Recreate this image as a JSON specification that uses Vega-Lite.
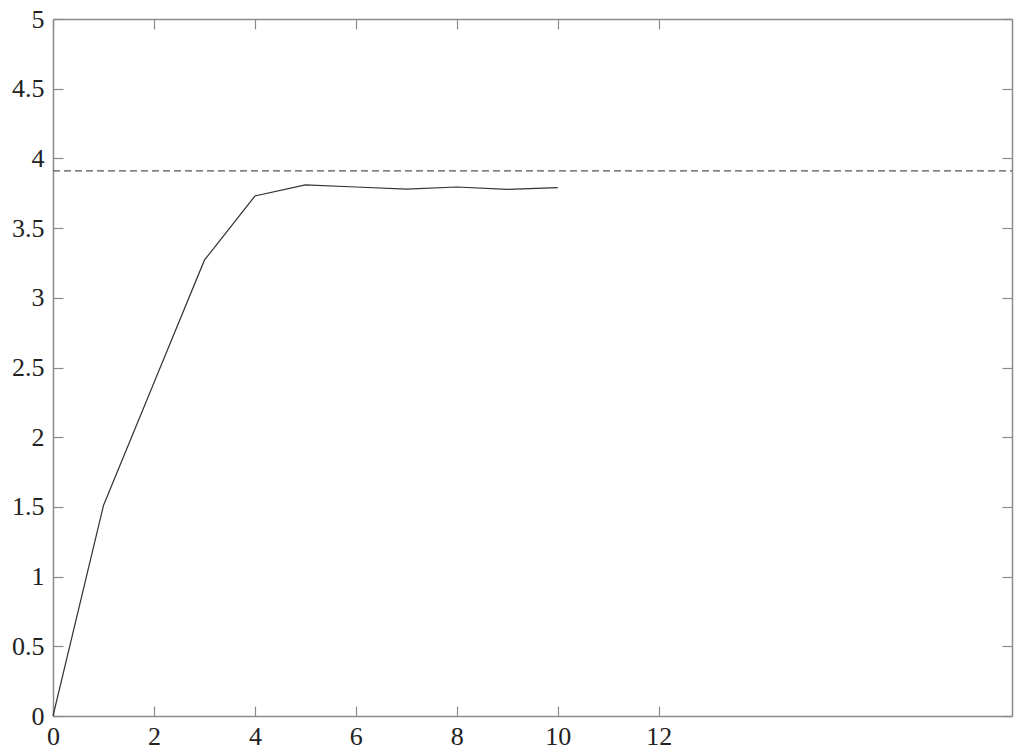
{
  "$schema": "https://vega.github.io/schema/vega-lite/v6.json",
  "width": 959,
  "height": 697,
  "autosize": "none",
  "padding": {"left": 53, "top": 19, "right": 12, "bottom": 37},
  "background": "white",
  "config": {
    "view": {"stroke": null},
    "axis": {
      "grid": false,
      "title": null,
      "labelFont": "Liberation Serif, Times New Roman, serif",
      "labelFontSize": 26,
      "labelColor": "#222222",
      "domainColor": "#8a8a8a",
      "domainWidth": 1.5,
      "tickColor": "#8a8a8a",
      "tickWidth": 1.2,
      "tickSize": -10
    }
  },
  "datasets": {
    "curve": [
      {"n": 0, "v": 0},
      {"n": 1, "v": 1.51},
      {"n": 2, "v": 2.39},
      {"n": 3, "v": 3.27},
      {"n": 4, "v": 3.73},
      {"n": 5, "v": 3.81},
      {"n": 6, "v": 3.795},
      {"n": 7, "v": 3.78},
      {"n": 8, "v": 3.795},
      {"n": 9, "v": 3.778},
      {"n": 10, "v": 3.79}
    ],
    "limit": [{"v": 3.91}]
  },
  "resolve": {"axis": {"x": "independent", "y": "independent"}},
  "layer": [
    {
      "data": {"name": "curve"},
      "mark": {"type": "line", "color": "#333333", "strokeWidth": 1.2},
      "encoding": {
        "x": {
          "field": "n",
          "type": "quantitative",
          "scale": {"domain": [0, 19], "nice": false},
          "axis": {"orient": "bottom", "values": [0, 2, 4, 6, 8, 10, 12], "format": "~g", "labelPadding": 17, "labelFlush": false}
        },
        "y": {
          "field": "v",
          "type": "quantitative",
          "scale": {"domain": [0, 5], "nice": false},
          "axis": {"orient": "left", "values": [0, 0.5, 1, 1.5, 2, 2.5, 3, 3.5, 4, 4.5, 5], "format": "~g", "labelPadding": 19, "labelFlush": false}
        }
      }
    },
    {
      "data": {"name": "limit"},
      "mark": {"type": "rule", "color": "#555555", "strokeWidth": 1.2, "strokeDash": [7, 4]},
      "encoding": {
        "y": {
          "field": "v",
          "type": "quantitative",
          "axis": {"orient": "right", "values": [0, 0.5, 1, 1.5, 2, 2.5, 3, 3.5, 4, 4.5, 5], "labels": false}
        },
        "x": {"datum": 0, "type": "quantitative", "axis": {"orient": "top", "values": [0, 2, 4, 6, 8, 10, 12], "labels": false}},
        "x2": {"datum": 19}
      }
    }
  ]
}
